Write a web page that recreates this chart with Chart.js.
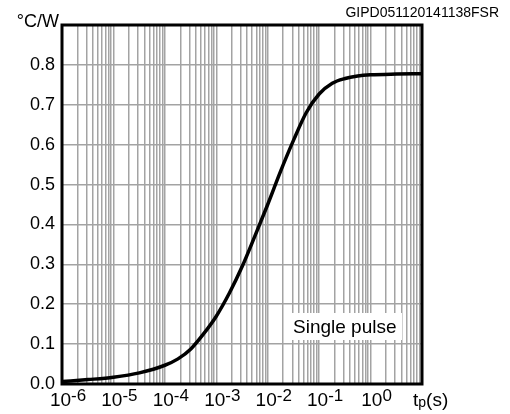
<!DOCTYPE html>
<html>
<head>
<meta charset="utf-8">
<script src="https://cdn.jsdelivr.net/npm/chart.js@4.4.1/dist/chart.umd.min.js"></script>
<style>
  body { margin: 0; background: #fff; }
  #wrap { width: 510px; height: 414px; position: relative; }
</style>
</head>
<body>
<div id="wrap"><canvas id="zthChart"></canvas></div>
<script>
// pulse duration tp (s) and thermal impedance (°C/W)
const pulseTimes = [1e-6, 3.2e-6, 1e-5, 3.2e-5,
                    1e-4, 1.8e-4, 3.2e-4, 5.6e-4,
                    1e-3, 1.8e-3, 3.2e-3, 5.6e-3,
                    1e-2, 1.8e-2, 3.2e-2, 5.6e-2,
                    1e-1, 1.8e-1, 3.2e-1, 5.6e-1,
                    1, 3.2, 10];
const zthValues = [0.006, 0.011, 0.017, 0.028,
                   0.047, 0.063, 0.088, 0.125,
                   0.17, 0.228, 0.295, 0.37,
                   0.45, 0.535, 0.612, 0.68,
                   0.727, 0.754, 0.766, 0.772,
                   0.775, 0.777, 0.778];

// axis ticks
const decadeExponents = [-6, -5, -4, -3, -2, -1, 0];
const minorSteps = [1, 2, 3, 4, 5, 6, 7, 8, 9];
const yTickLabels = ['0.0', '0.1', '0.2', '0.3', '0.4', '0.5', '0.6', '0.7', '0.8'];

const FONT = '"Liberation Sans", Arial, Helvetica, sans-serif';

// every 1..9 x 10^n gridline plus the last decade
const xGridValues = [];
decadeExponents.forEach(e => {
    minorSteps.forEach(s => xGridValues.push(s * Math.pow(10, e)));
});
xGridValues.push(10);

// frame, tick labels and texts
const decorations = {
    id: 'decorations',
    afterDraw(chart) {
        const ctx = chart.ctx;
        const area = chart.chartArea;
        const x = chart.scales.x;
        ctx.save();
        ctx.textBaseline = 'alphabetic';

        // "Single pulse" box
        ctx.fillStyle = '#fff';
        ctx.fillRect(area.left + 229, area.top + 288, 111, 27);
        ctx.fillStyle = '#000';
        ctx.font = '19px ' + FONT;
        ctx.textAlign = 'left';
        ctx.fillText('Single pulse', area.left + 231, area.top + 308);

        // x tick labels 10^n
        decadeExponents.forEach(e => {
            const px = x.getPixelForValue(Math.pow(10, e));
            const sup = e < 0 ? '-' + Math.abs(e) : String(e);
            ctx.font = '19px ' + FONT;
            const wBase = ctx.measureText('10').width;
            ctx.font = '17px ' + FONT;
            const wSup = ctx.measureText(sup).width;
            const left = px + 6 - (wBase + wSup) / 2;
            ctx.font = '19px ' + FONT;
            ctx.fillText('10', left, area.bottom + 22);
            ctx.font = '17px ' + FONT;
            ctx.fillText(sup, left + wBase, area.bottom + 17);
        });

        // tp(s)
        const xEnd = x.getPixelForValue(10);
        ctx.font = '19px ' + FONT;
        let cx = xEnd - 9;
        ctx.fillText('t', cx, area.bottom + 22);
        cx += ctx.measureText('t').width;
        ctx.font = '14px ' + FONT;
        ctx.fillText('p', cx, area.bottom + 23);
        cx += ctx.measureText('p').width;
        ctx.font = '19px ' + FONT;
        ctx.fillText('(s)', cx, area.bottom + 22);

        // unit and code
        ctx.textAlign = 'right';
        ctx.font = '18px ' + FONT;
        ctx.fillText('°C/W', area.left - 3, area.top + 2);
        ctx.font = '14px ' + FONT;
        ctx.fillText('GIPD051120141138FSR', 499, 17);

        // frame
        ctx.strokeStyle = '#000';
        ctx.lineWidth = 3;
        ctx.strokeRect(area.left, area.top, area.right - area.left, area.bottom - area.top);
        ctx.restore();
    }
};

new Chart(document.getElementById('zthChart'), {
    type: 'line',
    data: {
        labels: pulseTimes,
        datasets: [{
            data: pulseTimes.map((t, i) => ({ x: t, y: zthValues[i] })),
            borderColor: '#000',
            borderWidth: 3.5,
            pointRadius: 0,
            fill: false,
            cubicInterpolationMode: 'monotone'
        }]
    },
    options: {
        responsive: true,
        maintainAspectRatio: false,
        animation: false,
        layout: {
            padding: { top: 25, right: 88, bottom: 30, left: 0 }
        },
        plugins: {
            legend: { display: false },
            tooltip: { enabled: false }
        },
        scales: {
            x: {
                type: 'logarithmic',
                min: 1e-6,
                max: 10,
                afterBuildTicks: function(scale) {
                    scale.ticks = xGridValues.map(v => ({ value: v }));
                },
                afterFit: function(scale) {
                    scale.height = 0;
                },
                grid: {
                    color: '#a3a3a3',
                    lineWidth: 1.5,
                    drawTicks: false
                },
                border: { display: false },
                ticks: { display: false }
            },
            y: {
                min: 0,
                max: 0.9,
                afterFit: function(scale) {
                    scale.width = 62;
                },
                grid: {
                    color: '#a3a3a3',
                    lineWidth: 1.5,
                    drawTicks: false
                },
                border: { display: false },
                ticks: {
                    stepSize: 0.1,
                    padding: 7,
                    color: '#000',
                    font: { family: FONT, size: 18 },
                    callback: function(value, index) {
                        return yTickLabels[index] !== undefined ? yTickLabels[index] : '';
                    }
                }
            }
        }
    },
    plugins: [decorations]
});
</script>
</body>
</html>
